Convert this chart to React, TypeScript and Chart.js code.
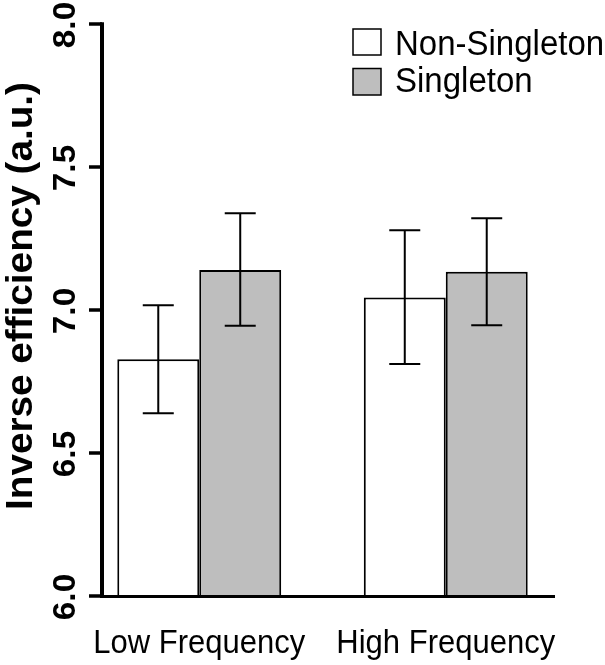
import React, { useEffect, useRef } from "react";
import { Chart, registerables } from "chart.js";

Chart.register(...registerables);

const categories = ["Low Frequency", "High Frequency"];
const seriesNames = ["Non-Singleton", "Singleton"];
const nonSingletonMeans = [6.828, 7.044];
const singletonMeans = [7.14, 7.134];
const nonSingletonLow = [6.639, 6.811];
const nonSingletonHigh = [7.017, 7.279];
const singletonLow = [6.945, 6.947];
const singletonHigh = [7.338, 7.321];
const yTicks = [6.0, 6.5, 7.0, 7.5, 8.0];
const yTickLabels = ["6.0", "6.5", "7.0", "7.5", "8.0"];
const yTitle = "Inverse efficiency (a.u.)";
const seriesColors = ["#FFFFFF", "#BEBEBE"];

const FONT = '"Liberation Sans", Arial, Helvetica, sans-serif';
const SY = 1.075;

function drawText(
  ctx: CanvasRenderingContext2D,
  text: string,
  x: number,
  y: number,
  font: string,
  align: CanvasTextAlign,
  rotated: boolean
) {
  ctx.save();
  ctx.translate(x, y);
  if (rotated) {
    ctx.rotate(-Math.PI / 2);
    ctx.scale(SY, 1);
  } else {
    ctx.scale(1, SY);
  }
  ctx.font = font;
  ctx.fillStyle = "#000";
  ctx.textAlign = align;
  ctx.textBaseline = "alphabetic";
  ctx.fillText(text, 0, 0);
  ctx.restore();
}

const errorBarsPlugin = {
  id: "errorBars",
  afterDatasetsDraw(chart: any) {
    const ctx = chart.ctx as CanvasRenderingContext2D;
    const yScale = chart.scales.y;
    chart.data.datasets.forEach((ds: any, i: number) => {
      const meta = chart.getDatasetMeta(i);
      meta.data.forEach((bar: any, j: number) => {
        const x = bar.x;
        const yl = yScale.getPixelForValue(ds.errLow[j]);
        const yh = yScale.getPixelForValue(ds.errHigh[j]);
        ctx.save();
        ctx.strokeStyle = "#000";
        ctx.lineWidth = 2;
        ctx.beginPath();
        ctx.moveTo(x, yl);
        ctx.lineTo(x, yh);
        ctx.moveTo(x - 15.5, yl);
        ctx.lineTo(x + 15.5, yl);
        ctx.moveTo(x - 15.5, yh);
        ctx.lineTo(x + 15.5, yh);
        ctx.stroke();
        ctx.restore();
      });
    });
  },
};

const axesPlugin = {
  id: "customAxes",
  afterDraw(chart: any) {
    const ctx = chart.ctx as CanvasRenderingContext2D;
    const yScale = chart.scales.y;
    const xScale = chart.scales.x;
    const yTop = yScale.getPixelForValue(yTicks[yTicks.length - 1]);
    const yBot = yScale.getPixelForValue(yTicks[0]);
    const axisX = 102;

    ctx.save();
    ctx.strokeStyle = "#000";
    // x axis line
    ctx.lineWidth = 3;
    ctx.beginPath();
    ctx.moveTo(100, yBot + 0.5);
    ctx.lineTo(555, yBot + 0.5);
    ctx.stroke();
    // y axis line
    ctx.lineWidth = 4;
    ctx.beginPath();
    ctx.moveTo(axisX, yTop - 1.75);
    ctx.lineTo(axisX, yBot + 1.75);
    ctx.stroke();
    // ticks
    ctx.lineWidth = 3.5;
    yTicks.forEach((v) => {
      const py = yScale.getPixelForValue(v);
      ctx.beginPath();
      ctx.moveTo(89, py);
      ctx.lineTo(axisX, py);
      ctx.stroke();
    });
    ctx.restore();

    // y tick labels
    yTicks.forEach((v, i) => {
      const py = yScale.getPixelForValue(v);
      drawText(ctx, yTickLabels[i], 75, py + 1, `bold 31px ${FONT}`, "center", true);
    });
    // y title
    drawText(ctx, yTitle, 32, 296, `bold 36px ${FONT}`, "center", true);

    // x labels
    categories.forEach((c, i) => {
      const px = xScale.getPixelForValue(i);
      drawText(ctx, c, px, 653, `31px ${FONT}`, "center", false);
    });

    // legend
    const legendRows = [
      { boxY: 29, boxH: 26, textY: 55 },
      { boxY: 68.5, boxH: 26.5, textY: 92 },
    ];
    chart.data.datasets.forEach((ds: any, i: number) => {
      const r = legendRows[i];
      ctx.save();
      ctx.fillStyle = ds.backgroundColor;
      ctx.fillRect(353, r.boxY, 28, r.boxH);
      ctx.strokeStyle = "#000";
      ctx.lineWidth = 1.5;
      ctx.strokeRect(353, r.boxY, 28, r.boxH);
      ctx.restore();
      drawText(ctx, ds.label, 395, r.textY, `33px ${FONT}`, "left", false);
    });
  },
};

export default function App() {
  const canvasRef = useRef<HTMLCanvasElement | null>(null);

  useEffect(() => {
    const canvas = canvasRef.current;
    if (!canvas) return;
    const chart = new Chart(canvas, {
      type: "bar",
      data: {
        labels: categories,
        datasets: [
          {
            label: seriesNames[0],
            data: nonSingletonMeans,
            backgroundColor: seriesColors[0],
            borderColor: "#000000",
            borderWidth: 2,
            errLow: nonSingletonLow,
            errHigh: nonSingletonHigh,
          } as any,
          {
            label: seriesNames[1],
            data: singletonMeans,
            backgroundColor: seriesColors[1],
            borderColor: "#000000",
            borderWidth: 2,
            errLow: singletonLow,
            errHigh: singletonHigh,
          } as any,
        ],
      },
      options: {
        responsive: false,
        animation: false,
        layout: { padding: { left: 76, right: 36, top: 24, bottom: 69 } },
        datasets: {
          bar: {
            categoryPercentage: 0.665,
            barPercentage: 1.0,
            borderSkipped: "start",
          },
        },
        scales: {
          x: { display: false, offset: true },
          y: { display: false, min: 6, max: 8, ticks: { stepSize: 0.5 } },
        },
        plugins: {
          legend: { display: false },
          title: { display: false },
          tooltip: { enabled: false },
        },
      },
      plugins: [errorBarsPlugin, axesPlugin],
    });
    return () => chart.destroy();
  }, []);

  return (
    <div style={{ position: "absolute", left: 0, top: 0, width: 605, height: 665, background: "#fff" }}>
      <canvas ref={canvasRef} width={605} height={665} style={{ display: "block" }} />
    </div>
  );
}
